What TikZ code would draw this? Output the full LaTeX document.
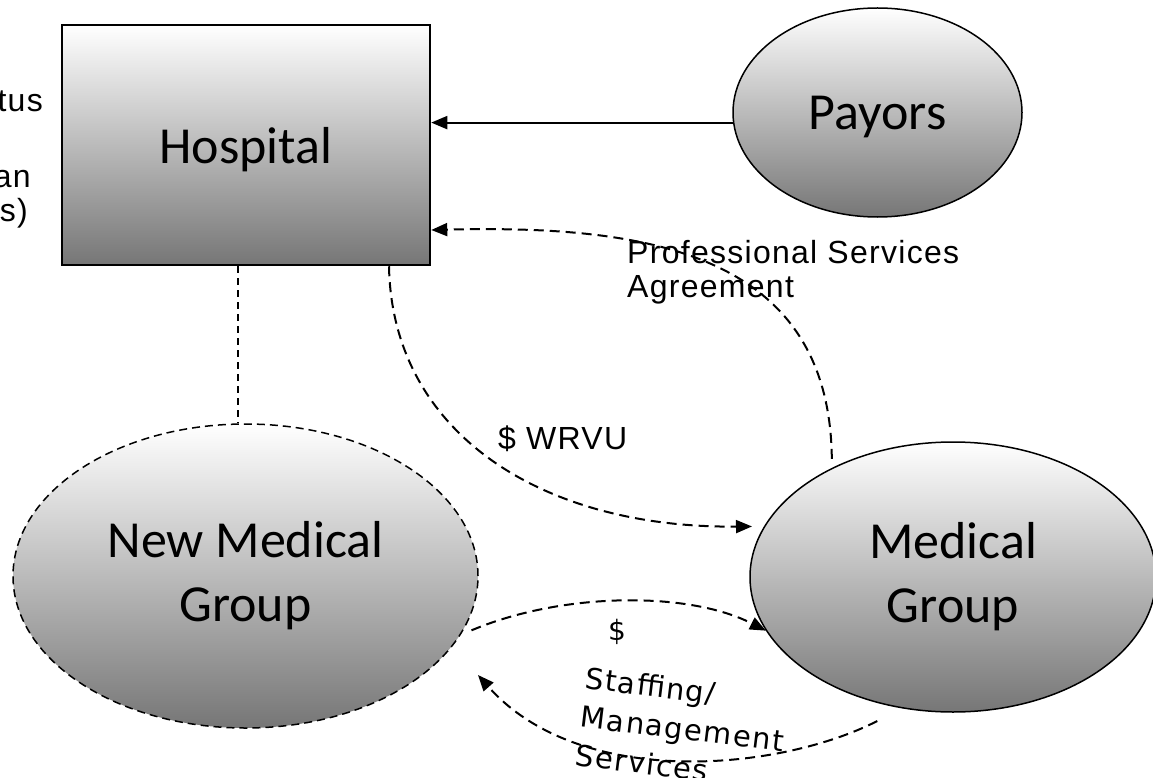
\documentclass[tikz,border=0pt]{standalone}
\usepackage{fontspec}
\setmainfont{Carlito}
\newfontfamily\arialfont[LetterSpace=4]{Liberation Sans}
\newfontfamily\verdfont[LetterSpace=5]{DejaVu Sans}
\usetikzlibrary{arrows.meta, shapes.geometric}
\definecolor{shadegray}{RGB}{118,118,118}

\begin{document}
\begin{tikzpicture}[x=1pt, y=-1pt,
    greyfill/.style={top color=white, bottom color=shadegray},
    bigtext/.style={font=\fontsize{52}{64}\selectfont, align=center},
    hospbox/.style={rectangle, draw, line width=2.5pt, greyfill, bigtext, minimum width=368pt, minimum height=240pt, inner sep=0pt, text depth=0pt},
    grpshape/.style={ellipse, draw, line width=1.5pt, greyfill, bigtext, inner sep=0pt},
    flowlabel/.style={font=\arialfont\fontsize{32}{34}\selectfont, align=left, inner sep=0pt},
    link/.style={line width=2pt},
    dashlink/.style={line width=2pt, dash pattern=on 10pt off 6pt},
    arrowhd/.style={-{Triangle[length=16pt, width=13pt]}}
  ]
  \clip (0,0) rectangle (1153,778);

  % shapes
  \node[hospbox] (hosp) at (246,145) {Hospital};
  \node[grpshape, text depth=0pt, minimum width=289pt, minimum height=209pt] (payors) at (877.5,112.5) {Payors};
  \node[grpshape, line width=1.5pt, dash pattern=on 8pt off 5pt, minimum width=465pt, minimum height=304pt] (newgrp) at (245.5,576) {New Medical\\Group};
  \node[grpshape, minimum width=406pt, minimum height=270pt] (medgrp) at (953,577) {Medical\\Group};

  % labels
  \node[flowlabel, anchor=base east] (tus) at (43,112) {tus};
  \node[flowlabel, anchor=base east] (an) at (31,188) {an};
  \node[flowlabel, anchor=base east] (sparen) at (28,222) {s)};
  \node[flowlabel, anchor=north west] (psa) at (627,240) {Professional Services\\Agreement};
  \node[flowlabel, anchor=base west] (wrvu) at (498,449) {\$ WRVU};
  \node[font=\verdfont\fontsize{28}{34}\selectfont, inner sep=0pt] (dollar) at (617,632) {\$};
  \node[font=\verdfont\fontsize{29}{39}\selectfont, align=left, inner sep=0pt, anchor=north west, rotate=-7] (staff) at (587,666) {Staffing/\\Management\\Services};

  % connectors
  \draw[line width=2pt, dash pattern=on 7pt off 5pt] ([xshift=-8pt]hosp.south) -- ([xshift=-8pt]hosp.south |- newgrp.north);
  \draw[link, arrowhd] (payors.184) -- (payors.184 -| hosp.east);
  \draw[dashlink, arrowhd] ([yshift=9pt]medgrp.138) .. controls +(-2,-210) and +(208,-5) .. ([yshift=-85pt]hosp.east);
  \draw[dashlink, arrowhd, shorten >=12pt] ([xshift=143pt]hosp.south) .. controls +(3,165) and +(-225,2) .. (medgrp.165);
  \draw[dashlink, arrowhd] ([xshift=8pt]newgrp.-14) .. controls +(90,-38) and +(-78,-40) .. (medgrp.196);
  \draw[dashlink, arrowhd] ([yshift=-18pt]medgrp.-121) .. controls +(-98,50) and +(102,115) .. ([xshift=232.5pt,yshift=-99pt]newgrp.center);
\end{tikzpicture}
\end{document}
